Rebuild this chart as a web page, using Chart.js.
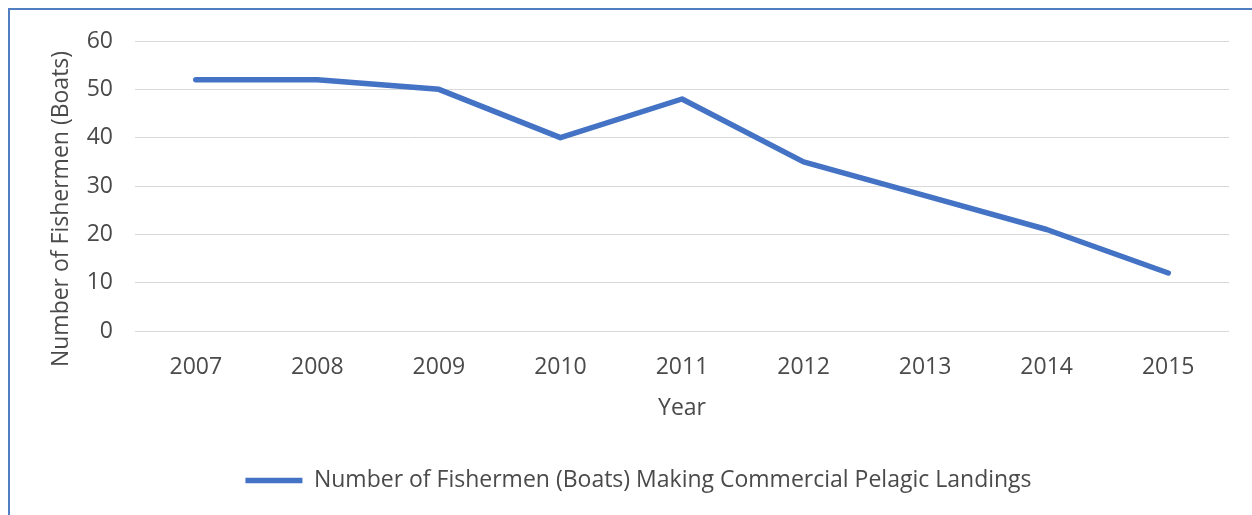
<!DOCTYPE html>
<html>
<head>
<meta charset="utf-8">
<script src="https://cdn.jsdelivr.net/npm/chart.js@4"></script>
<style>
    html, body { margin: 0; padding: 0; background: #ffffff; overflow: hidden; }
    #wrap { position: relative; width: 1252px; height: 515px; }
    /* blue frame round the chart area, cut off on the right and bottom */
    #frame {
        position: absolute; left: 8px; top: 8px; width: 1300px; height: 600px;
        border-top: 2px solid #4f7fc0; border-left: 2px solid #4f7fc0;
        pointer-events: none;
    }
</style>
</head>
<body>
<div id="wrap">
    <canvas id="fishChart" width="1252" height="515"></canvas>
    <div id="frame"></div>
</div>
<script>
// Podatki
const years = ['2007', '2008', '2009', '2010', '2011', '2012', '2013', '2014', '2015'];
const boats = [52, 52, 50, 40, 48, 35, 28, 21, 12];
const seriesName = 'Number of Fishermen (Boats) Making Commercial Pelagic Landings';
const yTitle = 'Number of Fishermen (Boats)';
const xTitle = 'Year';

const textColor = '#4a4a4a';
const lineColor = '#4472c4';
const fontFamily = "'Open Sans', sans-serif";
const fontSize = 23;

function drawChart() {
    const ctx = document.getElementById('fishChart').getContext('2d');

    new Chart(ctx, {
        type: 'line',
        data: {
            labels: years,
            datasets: [{
                label: seriesName,
                data: boats,
                borderColor: lineColor,
                backgroundColor: lineColor,
                borderWidth: 5.5,
                borderCapStyle: 'round',
                borderJoinStyle: 'round',
                pointRadius: 0,
                tension: 0
            }]
        },
        options: {
            responsive: false,
            animation: false,
            layout: {
                padding: { left: 48, right: 23, top: 41, bottom: 13 }
            },
            plugins: {
                tooltip: { enabled: false },
                legend: {
                    position: 'bottom',
                    labels: {
                        color: textColor,
                        font: { family: fontFamily, size: fontSize },
                        usePointStyle: true,
                        pointStyle: 'line',
                        pointStyleWidth: 57,
                        padding: 10
                    }
                }
            },
            scales: {
                x: {
                    offset: true,
                    grid: { display: false, drawTicks: false },
                    border: { display: false },
                    ticks: {
                        color: textColor,
                        font: { family: fontFamily, size: fontSize },
                        padding: 23,
                        maxRotation: 0
                    },
                    title: {
                        display: true,
                        text: xTitle,
                        color: textColor,
                        font: { family: fontFamily, size: fontSize },
                        padding: { top: 0, bottom: 37 }
                    },
                    // fixed height keeps the plot bottom on the zero line
                    afterFit: (scale) => { scale.height = 128; }
                },
                y: {
                    min: 0,
                    max: 60,
                    ticks: {
                        stepSize: 10,
                        color: textColor,
                        font: { family: fontFamily, size: fontSize },
                        padding: 22
                    },
                    grid: { color: '#d9d9d9', lineWidth: 1, drawTicks: false },
                    border: { display: false },
                    title: {
                        display: true,
                        // trailing em spaces push the rotated title a bit lower
                        text: yTitle + '\u2003\u2003',
                        color: textColor,
                        font: { family: fontFamily, size: fontSize },
                        padding: { top: 0, bottom: 0 }
                    },
                    afterFit: (scale) => { scale.width = 87; }
                }
            }
        }
    });
}

window.onload = drawChart;
</script>
</body>
</html>
